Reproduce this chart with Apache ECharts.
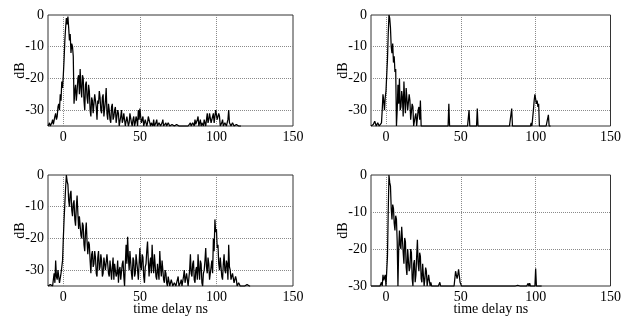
<!DOCTYPE html>
<html>
<head>
<meta charset="utf-8">
<script src="https://cdn.jsdelivr.net/npm/echarts@6/dist/echarts.min.js"></script>
<style>
html,body{margin:0;padding:0;background:#fff;}
#c{width:624px;height:321px;}
</style>
</head>
<body>
<div id="c"></div>
<script>
// sample delays: start and spacing (ns)
var delayStart = -10;
var delayStep = 0.5;

// x-axis tick labels / gridlines (ns)
var xTicks = [0, 50, 100, 150];
var xGrid = [0, 50, 100];
// y-axis tick labels / gridlines (dB)
var yTicksA = [0, -10, -20, -30];
var yGridA = [-10, -20, -30];
var yTicksB = [0, -10, -20, -30];
var yGridB = [-10, -20];

// top-left power delay profile (dB), one value per 0.5 ns from -10 ns
var pdpTopLeft = [
 -35,-34.5, -34,-35, -35,-34, -33,-34.5, -34,-32, -31,-33, -32,-29, -28,-30, -25,-27, -21,-23,
 -19,-14, -8,-4, -1,-3, -0.5,-4, -8,-6, -12,-9, -10,-13, -28,-24, -22,-27, -24,-20,
 -19,-25, -17,-23, -26,-19, -20,-27, -30,-22, -21,-26, -28,-22, -24,-30, -32,-26, -27,-31,
 -31,-25, -25,-29, -33,-27, -28,-24, -26,-30, -31,-26, -25,-32, -32,-27, -23,-31, -33,-28,
 -30,-33, -34,-29, -28,-33, -32,-30, -29,-34, -34,-30, -31,-35, -35,-32, -30,-34, -33,-31,
 -31,-35, -35,-32, -32,-35, -34,-31, -31,-34, -35,-33, -32,-35, -34,-32, -33,-35, -30,-33,
 -29.5,-32, -34,-33, -32,-35, -35,-33, -33,-35, -34,-32, -32,-34, -35,-34, -34,-35, -33,-35,
 -35,-34, -33,-35, -35,-34, -34,-35, -35,-34, -33,-35, -35,-34.5, -34,-35, -35,-34, -34.5,-35,
 -35,-35, -34.5,-35, -35,-35, -35,-34.5, -34.5,-35, -35,-35, -35,-34.5, -35,-35, -34.5,-35, -35,-35,
 -35,-34.5, -34.5,-35, -35,-34.5, -34,-35, -35,-34, -34,-35, -33,-34.5, -35,-33, -32,-35, -34,-33,
 -35,-34, -34,-35, -33,-34, -35,-33, -31,-34, -33,-31, -30.5,-34, -34,-32, -31,-34, -32,-30,
 -30,-33, -33,-31, -32,-35, -35,-34, -33,-35, -35,-34, -34,-35, -35,-33, -30,-34, -34,-35,
 -35,-34, -34,-35, -35,-34.5, -34.5,-35, -35,-35, -35,-35, -35
];

// top-right power delay profile (dB), one value per 0.5 ns from -10 ns
var pdpTopRight = [
 -35,-35, -35,-34.5, -34,-33.5, -33.5,-35, -35,-34, -34,-35, -35,-35, -34,-30, -25,-27, -30,-26,
 -24,-19, -14,-6, 0,-1, -4,-10, -12,-9, -15,-13, -18,-17, -35,-30, -22,-28, -20,-30,
 -29,-24, -26,-32, -21,-27, -31,-23, -23,-30, -30,-25, -27,-33, -33,-28, -29,-35, -35,-32,
 -31,-35, -35,-30, -29,-33, -27,-35, -35,-35, -35,-35, -35,-35, -35,-35, -35,-35, -35,-35,
 -35,-35, -35,-35, -35,-35, -35,-35, -35,-35, -35,-35, -35,-35, -35,-35, -35,-35, -35,-35,
 -35,-35, -35,-35, -28,-35, -35,-35, -35,-35, -35,-35, -35,-35, -35,-35, -35,-35, -35,-35,
 -35,-35, -35,-35, -35,-35, -35,-35, -35,-35, -35,-30, -35,-35, -35,-35, -35,-35, -35,-35,
 -35,-35, -29.5,-35, -35,-35, -35,-35, -35,-35, -35,-35, -35,-35, -35,-35, -35,-35, -35,-35,
 -35,-35, -35,-35, -35,-35, -35,-35, -35,-35, -35,-35, -35,-35, -35,-35, -35,-35, -35,-35,
 -35,-35, -35,-35, -35,-35, -35,-35, -29.5,-35, -35,-35, -35,-35, -35,-35, -35,-35, -35,-35,
 -35,-35, -35,-35, -35,-35, -35,-35, -35,-35, -35,-35, -35,-35, -34,-35, -35,-30, -27,-25,
 -24.5,-28, -27,-29, -28,-35, -35,-35, -35,-35, -35,-35, -35,-35, -35,-35, -35,-31.5, -35,-35,
 -35
];

// bottom-left power delay profile (dB), one value per 0.5 ns from -10 ns
var pdpBottomLeft = [
 -35,-35, -35,-34.5, -34,-35, -35,-33, -31,-34, -27,-32, -33,-30, -30,-34, -34,-31, -29,-27,
 -20,-14, -9,-4, 0,-2, -3,-8, -10,-6, -5,-11, -13,-9, -8,-14, -16,-10, -6.5,-12,
 -17,-13, -13,-19, -20,-15, -16,-22, -24,-18, -15,-21, -25,-21, -22,-27, -31,-25, -24,-29,
 -28,-24, -26,-31, -32,-26, -24,-30, -29,-25, -27,-32, -31,-26, -26,-30, -30,-25, -25,-31,
 -32,-27, -27,-33, -29,-26, -33,-28, -28,-32, -31,-27, -34,-30, -29,-33, -33,-28, -27,-32,
 -35,-28, -22,-28, -19.5,-26, -30,-24, -24,-31, -33,-26, -27,-32, -31,-25, -25,-30, -33,-28,
 -23,-29, -30,-25, -26,-32, -34,-29, -28,-24, -21,-27, -32,-28, -26,-31, -22,-28, -31,-25,
 -25,-32, -33,-28, -28,-33, -24,-29, -32,-27, -27,-33, -34,-30, -31,-34, -35,-32, -32,-35,
 -34,-33, -33,-35, -35,-34, -34,-35, -35,-33, -32,-35, -35,-34, -33,-35, -35,-32, -30,-34,
 -34,-31, -31,-35, -35,-30, -25,-31, -32,-28, -27,-33, -34,-30, -29,-33, -25,-30, -33,-27,
 -28,-34, -35,-31, -30,-27, -23,-29, -31,-26, -28,-33, -33,-29, -27,-31, -20,-24, -14,-18,
 -17,-23, -22,-28, -30,-26, -26,-32, -33,-28, -25,-30, -31,-27, -28,-33, -22,-29, -30,-33,
 -33,-31, -31,-34, -34,-32, -33,-35, -35,-34, -34,-35, -35,-35, -35,-35, -35,-35, -35,-35,
 -34.5,-35, -35,-35, -35
];

// bottom-right power delay profile (dB), one value per 0.5 ns from -10 ns
var pdpBottomRight = [
 -30,-30, -30,-30, -30,-30, -30,-30, -30,-30, -30,-30, -30,-30, -29,-30, -27,-28.5, -28,-27,
 -30,-26, -22,-10, 0,-2, -3,-9, -12,-8, -9,-13, -15,-11, -12,-18, -30,-20, -15,-19,
 -20,-14, -14,-21, -24,-17, -18,-25, -27,-20, -19.5,-26, -25,-20, -21,-28, -30,-24, -23,-29,
 -27,-22, -17.5,-24, -26,-21, -22,-28, -29,-24, -24,-30, -28,-25, -26,-30, -30,-27, -27,-30,
 -29,-30, -30,-30, -30,-30, -30,-30, -30,-30, -30,-30, -29,-30, -30,-30, -30,-30, -30,-30,
 -30,-30, -30,-30, -30,-30, -29.5,-30, -30,-30, -29.7,-30, -28,-26, -25.5,-28, -27,-25.5, -26,-29,
 -28.5,-30, -30,-30, -30,-30, -30,-30, -30,-30, -30,-30, -30,-30, -30,-30, -30,-30, -30,-30,
 -30,-30, -30,-30, -30,-30, -30,-30, -30,-30, -30,-30, -30,-30, -30,-30, -30,-30, -30,-30,
 -30,-30, -30,-30, -30,-30, -30,-30, -30,-30, -30,-30, -30,-30, -30,-30, -30,-30, -30,-30,
 -30,-30, -30,-30, -30,-30, -30,-30, -30,-30, -30,-30, -30,-30, -30,-30, -29.8,-30, -30,-30,
 -30,-30, -30,-30, -30,-30, -30,-30, -30,-30, -29.3,-30, -29.2,-30, -30,-30, -30,-30, -30,-30,
 -25.3,-30, -30,-30, -30,-30, -30,-30, -30
];

var panels = [
  {values: pdpTopLeft, yMin: -35, yTicks: yTicksA, yGrid: yGridA, showName: false},
  {values: pdpTopRight, yMin: -35, yTicks: yTicksA, yGrid: yGridA, showName: false},
  {values: pdpBottomLeft, yMin: -35, yTicks: yTicksA, yGrid: yGridA, showName: true},
  {values: pdpBottomRight, yMin: -30, yTicks: yTicksB, yGrid: yGridB, showName: true}
];

var boxes = [
  {left: 48, top: 15, width: 245, height: 111},
  {left: 371, top: 15, width: 243, height: 111},
  {left: 48, top: 175, width: 245, height: 111},
  {left: 371, top: 175, width: 243, height: 111}
];

var FONT = 'Liberation Serif';
var grids = [], xAxes = [], yAxes = [], series = [];
var gridStyle = {color: '#8a8a8a', type: [1, 1], width: 1};

panels.forEach(function (p, i) {
  var b = boxes[i];
  grids.push({left: b.left, top: b.top, width: b.width, height: b.height,
    show: true, borderColor: '#333', borderWidth: 1, backgroundColor: '#fff', containLabel: false});
  xAxes.push({
    type: 'value', gridIndex: i, min: -10, max: 150, interval: 10,
    axisLine: {show: false}, axisTick: {show: false}, splitLine: {show: false},
    axisLabel: {
      margin: 4, color: '#000', fontFamily: FONT, fontSize: 14,
      formatter: function (v) { return xTicks.indexOf(v) >= 0 ? String(v) : ''; }
    },
    name: p.showName ? 'time delay ns' : '', nameLocation: 'middle', nameGap: 16,
    nameMoveOverlap: false,
    nameTextStyle: {color: '#000', fontFamily: FONT, fontSize: 14, verticalAlign: 'top'}
  });
  yAxes.push({
    type: 'value', gridIndex: i, min: p.yMin, max: 0, interval: 5,
    axisLine: {show: false}, axisTick: {show: false}, splitLine: {show: false},
    axisLabel: {
      margin: 4, color: '#000', fontFamily: FONT, fontSize: 14,
      formatter: (function (ticks) { return function (v) { return ticks.indexOf(v) >= 0 ? String(v) : ''; }; })(p.yTicks)
    },
    name: 'dB', nameLocation: 'middle', nameRotate: 90, nameGap: 21,
    nameMoveOverlap: false,
    nameTextStyle: {color: '#000', fontFamily: FONT, fontSize: 14}
  });
  var md = [];
  xGrid.forEach(function (x) { md.push({xAxis: x}); });
  p.yGrid.forEach(function (y) { md.push({yAxis: y}); });
  series.push({
    type: 'line', xAxisIndex: i, yAxisIndex: i, data: [], z: 1,
    markLine: {silent: true, symbol: 'none', z: 1, animation: false,
      label: {show: false}, lineStyle: gridStyle, data: md}
  });
  series.push({
    type: 'line', xAxisIndex: i, yAxisIndex: i, z: 3,
    data: p.values.map(function (v, k) { return [delayStart + k * delayStep, v]; }),
    showSymbol: false, symbol: 'none', clip: true,
    lineStyle: {color: '#000', width: 1.25}
  });
});

var chart = echarts.init(document.getElementById('c'), null, {renderer: 'canvas'});
chart.setOption({
  animation: false,
  backgroundColor: '#fff',
  grid: grids, xAxis: xAxes, yAxis: yAxes, series: series
});
</script>
</body>
</html>
